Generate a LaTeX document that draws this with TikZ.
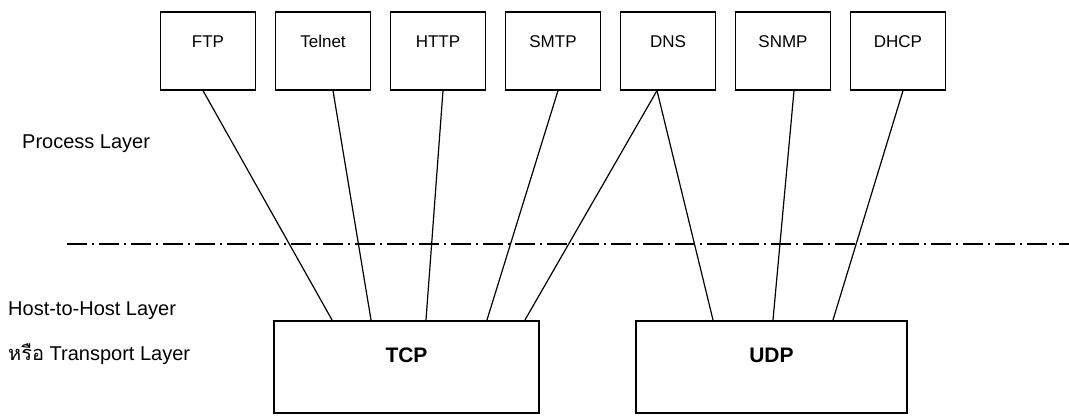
\documentclass[tikz,border=0pt]{standalone}
\usepackage{fontspec}
\setmainfont{Liberation Sans}
\newfontfamily\thaifont[Script=Thai]{Loma}
\usepackage{tikz}
\tikzstyle{appbox} = [draw, line width=1.2pt, rectangle, minimum width=95pt, minimum height=78pt, text height=12pt, text depth=20pt, font=\fontsize{17}{20}\selectfont]
\tikzstyle{transbox} = [draw, line width=2.2pt, rectangle, minimum height=92pt, text height=15pt, text depth=24pt, font=\fontsize{21}{24}\selectfont\bfseries]
\tikzstyle{layerlabel} = [anchor=base west, inner sep=0pt, font=\fontsize{20}{24}\selectfont]
\tikzstyle{link} = [line width=1.2pt]
\tikzstyle{layersep} = [line width=1.2pt, dash pattern=on 20pt off 5pt on 2pt off 5pt]

\begin{document}
\begin{tikzpicture}[x=1pt, y=-1pt, node distance=115pt]
		\useasboundingbox (0,0) rectangle (1069,416);
		\node (ftp) [appbox] at (208,51) {FTP};
		\node (telnet) [appbox, right of=ftp] {Telnet};
		\node (http) [appbox, right of=telnet] {HTTP};
		\node (smtp) [appbox, right of=http] {SMTP};
		\node (dns) [appbox, right of=smtp] {DNS};
		\node (snmp) [appbox, right of=dns] {SNMP};
		\node (dhcp) [appbox, right of=snmp] {DHCP};
		\node (tcp) [transbox, minimum width=265pt] at (406.5,367) {TCP};
		\node (udp) [transbox, minimum width=271pt] at (771.5,367) {UDP};
		\node (process) [layerlabel] at (22,148) {Process Layer};
		\node (hosttohost) [layerlabel] at (8,315) {Host-to-Host Layer};
		\node (transport) [layerlabel] at (8,360) {{\thaifont หรือ} Transport Layer};
		\coordinate (sepleft) at (67,244);
		\coordinate (sepright) at (1069,244);
		\draw [layersep] (sepleft) -- (sepright);
		\draw [link] ([xshift=-5pt]ftp.south) -- ([xshift=-74.5pt]tcp.north);
		\draw [link] ([xshift=10pt]telnet.south) -- ([xshift=-35.5pt]tcp.north);
		\draw [link] ([xshift=5pt]http.south) -- ([xshift=19.5pt]tcp.north);
		\draw [link] ([xshift=5pt]smtp.south) -- ([xshift=80.5pt]tcp.north);
		\draw [link] ([xshift=-11pt]dns.south) -- ([xshift=118.5pt]tcp.north);
		\draw [link] ([xshift=-11pt]dns.south) -- ([xshift=-58.5pt]udp.north);
		\draw [link] ([xshift=11pt]snmp.south) -- ([xshift=1.5pt]udp.north);
		\draw [link] ([xshift=5pt]dhcp.south) -- ([xshift=61.5pt]udp.north);
	\end{tikzpicture}
\end{document}
